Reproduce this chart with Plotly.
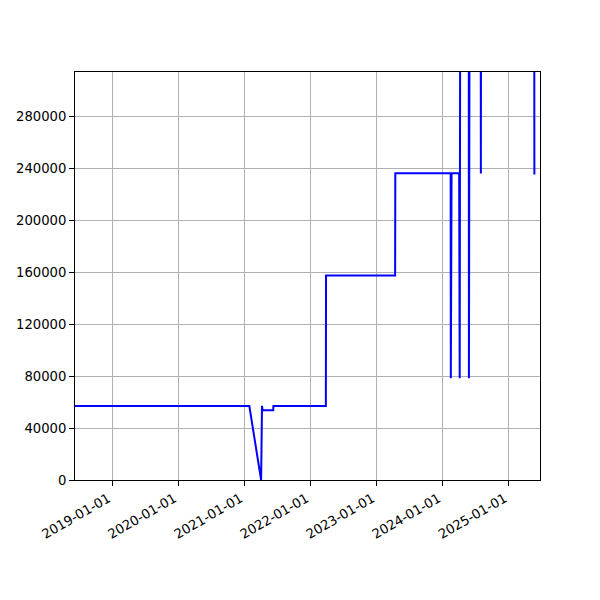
import plotly.graph_objects as go

dates = [
    "2018-06-09", "2021-01-28", "2021-04-03", "2021-04-04", "2021-04-08", "2021-04-11",
    "2021-06-09", "2021-06-10", "2022-03-27", "2022-03-28", "2023-04-14", "2023-04-15",
    "2024-02-15", "2024-02-16", "2024-02-20", "2024-04-02", "2024-04-03", "2024-04-05",
    "2024-04-08", "2024-05-25", "2024-05-26", "2024-05-30", "2024-07-30", "2024-07-31",
    "2024-08-01", "2025-05-22", "2025-05-23",
]
values = [
    57000, 57000, 0, 53800, 57200, 53800,
    53800, 57000, 57000, 157500, 157500, 236300,
    236300, 78500, 236300, 236300, 400000, 78500,
    400000, 400000, 78500, 400000, 400000, 236100,
    400000, 400000, 235500,
]

x_ticks = ["2019-01-01", "2020-01-01", "2021-01-01", "2022-01-01",
           "2023-01-01", "2024-01-01", "2025-01-01"]
y_ticks = [0, 40000, 80000, 120000, 160000, 200000, 240000, 280000]

fig = go.Figure()
fig.add_trace(go.Scatter(x=dates, y=values, mode="lines",
                         line=dict(color="#0000ff", width=2), showlegend=False))

axis_common = dict(
    showline=True, linecolor="black", linewidth=1.1, mirror=True,
    showgrid=True, gridcolor="#b0b0b0", gridwidth=1.1,
    ticks="outside", ticklen=4.9, tickwidth=1.1, tickcolor="black",
    tickfont=dict(family="DejaVu Sans", size=13.2, color="black"),
    zeroline=False, automargin=False,
)

fig.update_layout(
    width=600, height=600,
    margin=dict(l=67, r=68, t=64, b=128),
    paper_bgcolor="white", plot_bgcolor="white",
    xaxis=dict(type="date", range=["2018-06-09", "2025-06-23"],
               tickvals=x_ticks, ticktext=x_ticks, tickangle=-30,
               ticklabelshift=-4, **axis_common),
    yaxis=dict(range=[0, 314400], tickvals=y_ticks,
               ticktext=[str(v) for v in y_ticks], **axis_common),
)

fig.write_html("out.html")
